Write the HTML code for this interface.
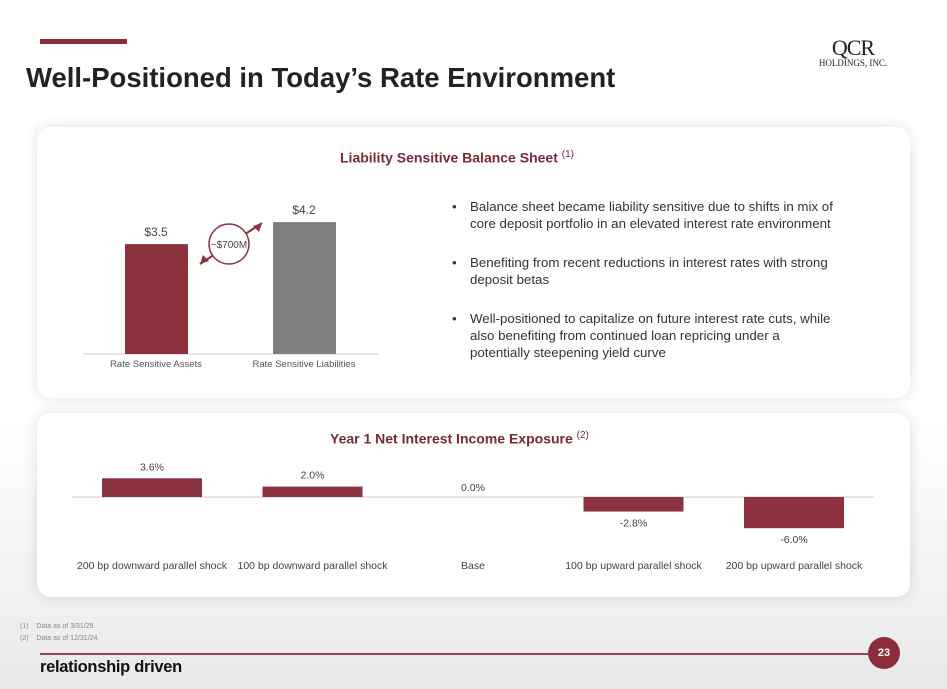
<!DOCTYPE html>
<html><head><meta charset="utf-8"><style>
body{margin:0;width:947px;height:689px;overflow:hidden;font-family:"Liberation Sans",sans-serif;background:linear-gradient(180deg,#fff 0%,#fff 60%,#f2f2f2 85%,#e8e8e8 100%);position:relative}
.abs{position:absolute}
.panel{position:absolute;background:#fff;border-radius:14px;box-shadow:0 0 14px rgba(0,0,0,0.12)}
</style></head><body>
<div class="abs" style="left:40px;top:39px;width:87px;height:5px;background:#8b2e3a"></div>
<div class="abs" style="left:26px;top:62px;font-size:27.5px;font-weight:bold;color:#222;letter-spacing:0px">Well-Positioned in Today’s Rate Environment</div>
<div class="abs" style="left:808px;top:38px;width:90px;text-align:center;font-family:'Liberation Serif',serif;color:#222">
<div style="font-size:22px;line-height:20px;letter-spacing:-1px">QCR</div><div style="font-size:9px;line-height:10px">HOLDINGS, INC.</div></div>

<div class="panel" style="left:37px;top:127px;width:873px;height:271px"></div>
<div class="abs" style="left:340px;top:149px;font-size:14px;font-weight:bold;color:#7a2a36">Liability Sensitive Balance Sheet <sup style="font-size:10px;font-weight:normal">(1)</sup></div>
<div class="abs" style="left:452px;top:198px;width:390px;font-size:13.3px;color:#333;line-height:17px">
<div style="position:relative;padding-left:18px"><span style="position:absolute;left:0">•</span>Balance sheet became liability sensitive due to shifts in mix of core deposit portfolio in an elevated interest rate environment</div>
<div style="position:relative;padding-left:18px;margin-top:22px"><span style="position:absolute;left:0">•</span>Benefiting from recent reductions in interest rates with strong deposit betas</div>
<div style="position:relative;padding-left:18px;margin-top:22px"><span style="position:absolute;left:0">•</span>Well-positioned to capitalize on future interest rate cuts, while also benefiting from continued loan repricing under a potentially steepening yield curve</div>
</div>

<div class="panel" style="left:37px;top:413px;width:873px;height:184px"></div>
<div class="abs" style="left:330px;top:430px;font-size:14px;font-weight:bold;color:#7a2a36">Year 1 Net Interest Income Exposure <sup style="font-size:10px;font-weight:normal">(2)</sup></div>

<div class="abs" style="left:20px;top:621px;font-size:7px;color:#888;line-height:12px">(1)&nbsp;&nbsp;&nbsp; Data as of 3/31/25.<br>(2)&nbsp;&nbsp;&nbsp; Data as of 12/31/24.</div>
<div class="abs" style="left:40px;top:653px;width:828px;height:2px;background:#8b4a52"></div>
<div class="abs" style="left:868px;top:637px;width:32px;height:32px;border-radius:50%;background:#8b2e3a;color:#fff;font-size:11px;font-weight:bold;text-align:center;line-height:32px">23</div>
<div class="abs" style="left:40px;top:658px;font-size:16.5px;font-weight:bold;color:#111;letter-spacing:-0.3px">relationship driven</div>

<svg class="abs" style="left:0;top:0" width="947" height="689" id="c1"></svg>
<script>
const bsCats=["Rate Sensitive Assets","Rate Sensitive Liabilities"];
const bsVals=[3.5,4.2];
const bsLabels=["$3.5","$4.2"];
const niiCats=["200 bp downward parallel shock","100 bp downward parallel shock","Base","100 bp upward parallel shock","200 bp upward parallel shock"];
const niiVals=[3.6,2.0,0.0,-2.8,-6.0];
const niiLabels=["3.6%","2.0%","0.0%","-2.8%","-6.0%"];
const NS="http://www.w3.org/2000/svg";
const svg=document.getElementById('c1');
function mk(t,a,txt){const e=document.createElementNS(NS,t);for(const k in a)e.setAttribute(k,a[k]);if(txt!==undefined)e.textContent=txt;svg.appendChild(e);return e;}
// chart 1
const y1=v=>354-v*31.4, x1=i=>156+i*148;
let ax=mk('line',{x1:83,x2:378,y1:354,y2:354,stroke:'#ccc'});

bsVals.forEach((v,i)=>{
 const r=mk('rect',{x:x1(i)-31,y:y1(v),width:63,height:354-y1(v),fill:i?'#808080':'#8b323e'});
 
 const t=mk('text',{x:x1(i),y:y1(v)-8,'text-anchor':'middle','font-size':12,fill:'#444'},bsLabels[i]);
 
 const c=mk('text',{x:x1(i),y:367,'text-anchor':'middle','font-size':9.5,fill:'#555'},bsCats[i]);
 
});
let ar=mk('line',{x1:200,y1:264,x2:262,y2:223,stroke:'#8b323e','stroke-width':2});

mk('polygon',{points:'200,264 203,255 209,261',fill:'#8b323e'});
mk('polygon',{points:'262,223 253,226 259,232',fill:'#8b323e'});
let ci=mk('circle',{cx:229,cy:244,r:20,fill:'#fff',stroke:'#8b323e','stroke-width':1.5});

mk('text',{x:229,y:248,'text-anchor':'middle','font-size':10,fill:'#444'},'~$700M');
// chart 2
const y2=v=>497-v*5.2, x2=i=>152+i*160.5;
let ax2=mk('line',{x1:72,x2:874,y1:497,y2:497,stroke:'#ccc'});

niiVals.forEach((v,i)=>{
 const top=Math.min(y2(v),497),h=Math.abs(y2(v)-497);
 const r=mk('rect',{x:x2(i)-50,y:top,width:100,height:h,fill:'#8b323e'});
 
 const ly=v>0?y2(v)-8:(v<0?y2(v)+15:491);
 const t=mk('text',{x:x2(i),y:ly,'text-anchor':'middle','font-size':10.5,fill:'#444'},niiLabels[i]);
 
 const c=mk('text',{x:x2(i),y:569,'text-anchor':'middle','font-size':10.5,fill:'#444'},niiCats[i]);
 
});
</script>
</body></html>
